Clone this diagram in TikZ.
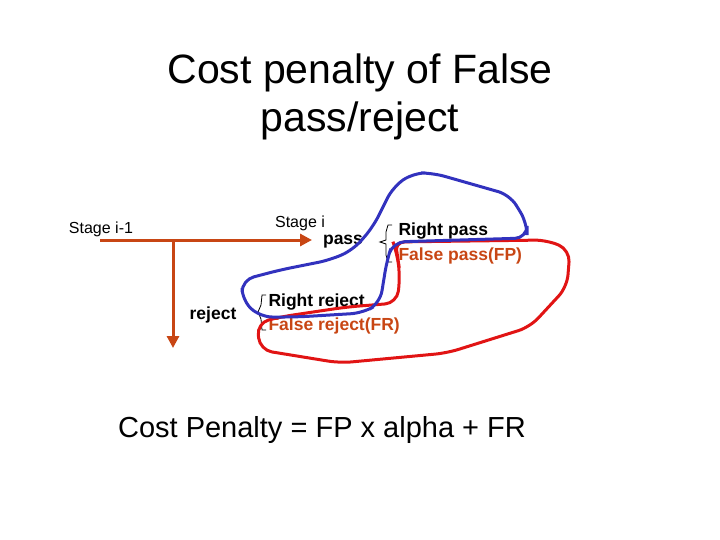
\documentclass[tikz,border=0pt]{standalone}
\usepackage{fontspec}
\setmainfont{Liberation Sans}
\usetikzlibrary{arrows.meta,decorations.pathreplacing}
\definecolor{rust}{RGB}{200,70,20}
\definecolor{penblue}{RGB}{50,50,190}
\definecolor{penred}{RGB}{225,20,20}
\begin{document}
\begin{tikzpicture}[x=1pt,y=-1pt,
    flow/.style={rust,line width=3pt,-{Triangle[length=12pt,width=12pt]}},
    small/.style={font=\fontsize{16}{18}\selectfont},
    lbl/.style={font=\fontsize{17.5}{19}\selectfont\bfseries},
    ink/.style={line width=3pt,rounded corners=12pt}]
  \useasboundingbox (0,0) rectangle (720,540);
  % Titel
  \node[align=center,font=\fontsize{41}{48}\selectfont] (title) at (360,97) {Cost penalty of False\\pass/reject};
  % Stufen
  \node[small] (s1) at (101,229) {Stage i-1};
  \node[small] (s2) at (300,223) {Stage i};
  \coordinate (start) at (100,240);
  \coordinate (split) at (173,240);
  \coordinate (passend) at (312,240);
  \coordinate (rejend) at (173,348);
  \draw[flow] (start) -- (passend);
  \draw[flow] (split) -- (rejend);
  \node[lbl] (pass) at (343,242) {pass};
  \node[lbl] (reject) at (213,315) {reject};
  \node[lbl,anchor=west] (rp) at (395,231) {Right pass};
  \node[lbl,anchor=west,text=rust] (fp) at (395,256) {False pass(FP)};
  \node[lbl,anchor=west] (rr) at (265,302) {Right reject};
  \node[lbl,anchor=west,text=rust] (fr) at (265,326) {False reject(FR)};
  \draw[line width=0.8pt] (392,225) -- (388,225) -- (386,232) -- (386,240) -- (380,242) -- (386,244) -- (386,255) -- (388,262) -- (392,262);
  \draw[line width=0.8pt] (266,295) -- (262,295) -- (261,305) -- (258,312) -- (261,319) -- (262,330) -- (266,330);
  % Markierungen
  \draw[penred,ink] (393,242) -- (547,240) -- (570,250) -- (567,287) -- (530,327) -- (447,353) -- (340,363) -- (260,350)
    -- (257,323) -- (280,317) -- (313,312) -- (347,307) -- (397,303) -- (400,277) -- (397,253) -- cycle;
  \draw[penblue,ink] (433,173) -- (510,195) -- (527,223) -- (527,238) -- (393,242) -- (387,260) -- (380,303) -- (363,313)
    -- (297,317) -- (260,317) -- (242,300) -- (242,280) -- (280,270) -- (330,260) -- (353,250) -- (373,227) -- (393,187) -- (413,173) -- cycle;
  % Formel
  \node[font=\fontsize{29}{34}\selectfont] (cost) at (322,430) {Cost Penalty = FP x alpha + FR};
\end{tikzpicture}
\end{document}
